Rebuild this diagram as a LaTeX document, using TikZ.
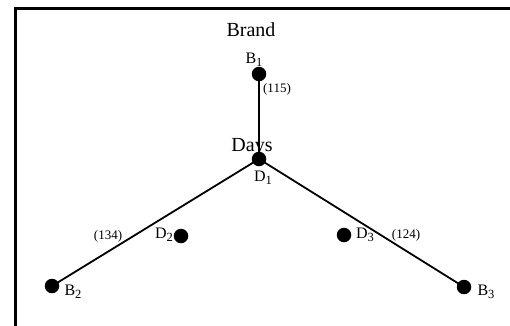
\documentclass[tikz,border=0pt]{standalone}
\usepackage{fontspec}
\setmainfont{Liberation Serif}
\newcommand{\mysub}[1]{\raisebox{-2.5pt}{\fontsize{12.5}{12.5}\selectfont #1}}
\begin{document}
\begin{tikzpicture}[x=1pt,y=-1pt,
  dot/.style={circle,fill=black,inner sep=0pt,minimum width=14.5pt,minimum height=13pt},
  lbl/.style={inner sep=0pt,font=\fontsize{16}{16}\selectfont},
  big/.style={inner sep=0pt,font=\fontsize{20}{20}\selectfont},
  num/.style={inner sep=0pt,font=\fontsize{13}{13}\selectfont},
  edge/.style={line width=1.8pt}]
\useasboundingbox (0,0) rectangle (510,325);
\draw[line width=3pt] (15,335) -- (15,8.7) -- (520,8.7);
\node[dot] (b1) at (259,74) {};
\node[dot] (d1) at (259,159) {};
\node[dot] (b2) at (52,286) {};
\node[dot] (b3) at (464,287) {};
\node[dot] (d2) at (181,236) {};
\node[dot] (d3) at (344,235) {};
\draw[edge] (b1) -- (d1);
\draw[edge] (d1.center) -- (b2.center);
\draw[edge] (d1.center) -- (b3.center);
\node[big] (brand) at (251,30) {Brand};
\node[big] (days) at (252,147) {Days};
\node[lbl] (lb1) at (254,60) {B\mysub{1}};
\node[lbl] (ld1) at (263,178) {D\mysub{1}};
\node[lbl] (ld2) at (164,235) {D\mysub{2}};
\node[lbl] (ld3) at (365,235) {D\mysub{3}};
\node[lbl] (lb2) at (73,292) {B\mysub{2}};
\node[lbl] (lb3) at (486,292) {B\mysub{3}};
\node[num] (n115) at (277,89) {(115)};
\node[num] (n134) at (108,236) {(134)};
\node[num] (n124) at (406,235) {(124)};
\end{tikzpicture}
\end{document}
